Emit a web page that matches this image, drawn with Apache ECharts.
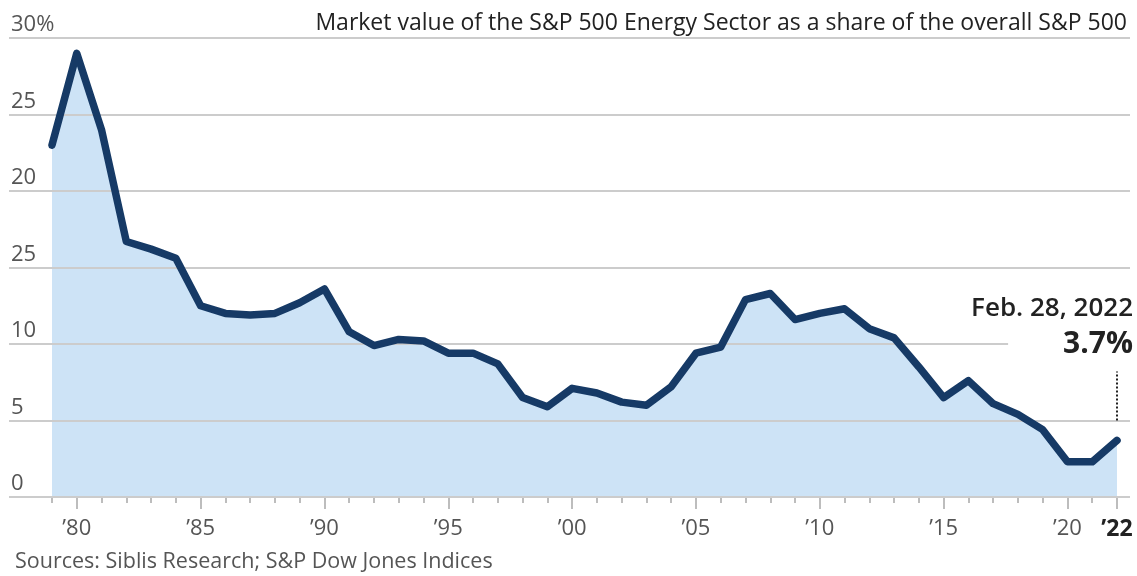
<!DOCTYPE html>
<html>
<head>
<meta charset="utf-8">
<script src="https://cdn.jsdelivr.net/npm/echarts@6/dist/echarts.min.js"></script>
<style>
html,body{margin:0;padding:0;background:#fff;}
#chart{width:1137px;height:576px;}
</style>
</head>
<body>
<div id="chart"></div>
<script>
const years = ['1979','1980','1981','1982','1983','1984','1985','1986','1987','1988','1989',
  '1990','1991','1992','1993','1994','1995','1996','1997','1998','1999',
  '2000','2001','2002','2003','2004','2005','2006','2007','2008','2009',
  '2010','2011','2012','2013','2014','2015','2016','2017','2018','2019',
  '2020','2021','2022'];
const energyShare = [23.0,29.0,24.0,16.7,16.2,15.6,12.5,12.0,11.9,12.0,12.7,
  13.6,10.8,9.9,10.3,10.2,9.4,9.4,8.7,6.5,5.9,
  7.1,6.8,6.2,6.0,7.2,9.4,9.8,12.9,13.3,11.6,
  12.0,12.3,11.0,10.4,8.5,6.5,7.6,6.1,5.4,4.4,
  2.3,2.3,3.7];
const yTickValues = [0,5,10,15,20,25,30];
const yTickLabels = ['0','5','10','25','20','25','30%'];
const titleText = 'Market value of the S&P 500 Energy Sector as a share of the overall S&P 500';
const sourceText = 'Sources: Siblis Research; S&P Dow Jones Indices';
const noteDate = 'Feb. 28, 2022';
const noteValue = '3.7%';
const noteLineRange = [5, 8.2];

const FONT = '"Open Sans", "Noto Sans", sans-serif';
const chart = echarts.init(document.getElementById('chart'), null, {renderer:'canvas'});
const lastYear = years[years.length-1];

const option = {
  backgroundColor:'#ffffff',
  animation:false,
  textStyle:{fontFamily:FONT},
  title:[
    {text:titleText, right:5, top:7,
     textStyle:{fontFamily:FONT, fontSize:23, fontWeight:'normal', color:'#222'}},
    {text:sourceText, left:10, top:546,
     textStyle:{fontFamily:FONT, fontSize:21.5, fontWeight:'normal', color:'#555'}}
  ],
  grid:[
    {left:9, right:7, top:38, bottom:79},
    {left:52, right:20, top:38, bottom:79}
  ],
  xAxis:[
    {type:'value', gridIndex:0, show:false, min:0, max:1},
    {type:'category', gridIndex:1, data:years, boundaryGap:false, position:'bottom',
     axisLine:{show:false},
     axisTick:{show:true, alignWithLabel:true, interval:0, length:6, lineStyle:{color:'#bdbdbd', width:2}},
     axisLabel:{show:false},
     splitLine:{show:false}},
    {type:'category', gridIndex:1, data:years, boundaryGap:false, position:'bottom',
     axisLine:{show:false},
     axisTick:{show:true, length:12, lineStyle:{color:'#bdbdbd', width:2},
       interval:function(i, v){ const y=+v; return y%5===0 || v===lastYear; }},
     axisLabel:{show:true, margin:21, fontSize:22, color:'#555', fontFamily:FONT,
       interval:function(i, v){ const y=+v; return y%5===0 || v===lastYear; },
       formatter:function(v){ const s='\u2019'+v.slice(2); return v===lastYear ? '{b|'+s+'}' : s; },
       rich:{b:{fontSize:23, fontWeight:'bold', color:'#222', fontFamily:FONT}}},
     splitLine:{show:false}}
  ],
  yAxis:[
    {type:'value', gridIndex:0, min:0, max:30, interval:5, z:3,
     axisLine:{show:false}, axisTick:{show:false},
     splitLine:{show:true, lineStyle:{color:'#cccccc', width:2}},
     axisLabel:{show:true, inside:true, margin:2, verticalAlign:'bottom', align:'left',
       padding:[0,0,2,0], fontSize:22, color:'#555', fontFamily:FONT,
       formatter:function(v){ const i=yTickValues.indexOf(v); return i>=0 ? yTickLabels[i] : ''; }}},
    {type:'value', gridIndex:1, min:0, max:30, interval:5, show:false,
     splitLine:{show:false}}
  ],
  series:[
    {type:'line', name:'area', xAxisIndex:1, yAxisIndex:1, data:energyShare, z:1,
     symbol:'none', lineStyle:{width:0, opacity:0},
     areaStyle:{color:'#cde3f6', opacity:1}},
    {type:'line', name:'Energy share', xAxisIndex:1, yAxisIndex:1, data:energyShare, z:5,
     symbol:'none', lineStyle:{width:7.5, color:'#163a66', join:'round', cap:'round'},
     markLine:{silent:true, symbol:['none','none'], label:{show:false},
       lineStyle:{type:[2,2], color:'#222', width:2},
       data:[[{coord:[lastYear, noteLineRange[0]]},{coord:[lastYear, noteLineRange[1]]}]]},
     markPoint:{silent:true, symbol:'circle', symbolSize:0,
       data:[{coord:[lastYear, energyShare[energyShare.length-1]]}],
       label:{show:true, position:'inside', align:'right', verticalAlign:'bottom',
         offset:[16,-78],
         formatter:'{a|'+noteDate+'}\n{b|'+noteValue+'}',
         rich:{
           a:{fontSize:26, fontWeight:600, color:'#222', fontFamily:FONT, lineHeight:36, align:'right'},
           b:{fontSize:30, fontWeight:'bold', color:'#222', fontFamily:FONT, lineHeight:36, align:'right',
              backgroundColor:'#ffffff', padding:[0,0,0,55]}
         }}}}
  ]
};
chart.setOption(option);
</script>
</body>
</html>
